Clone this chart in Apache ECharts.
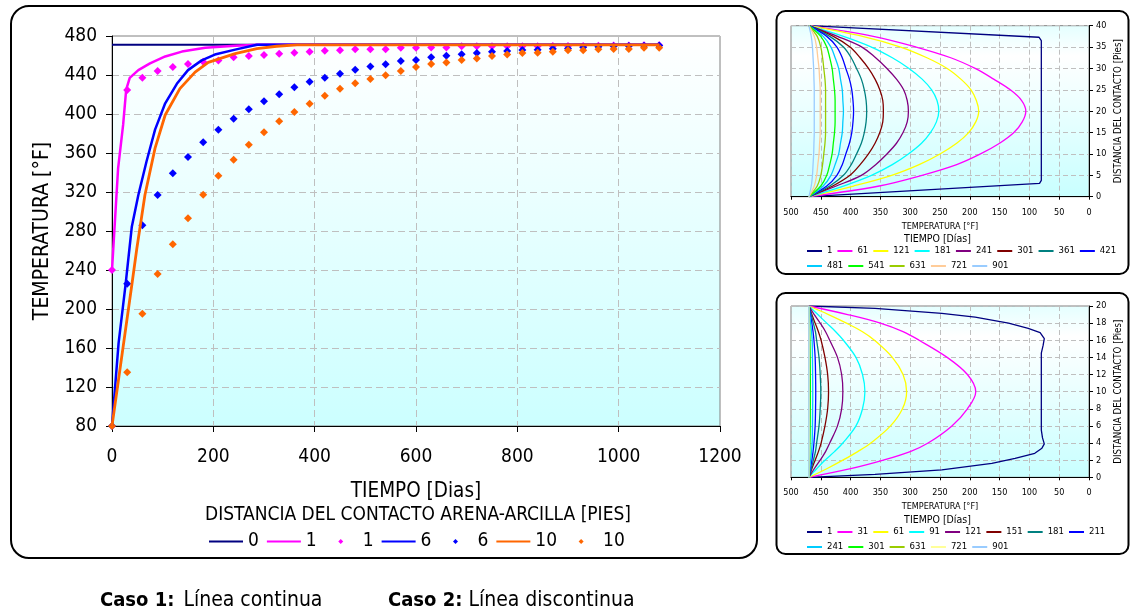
<!DOCTYPE html>
<html><head><meta charset="utf-8">
<script src="https://cdn.jsdelivr.net/npm/echarts@6.0.0/dist/echarts.min.js"></script>
<style>html,body{margin:0;padding:0;background:#fff}#c{width:1130px;height:615px}</style>
</head><body><div id="c"></div>
<script>
// ---------- Main chart data (Temperatura vs Tiempo) ----------
const DAYS = [0,30,60,90,120,150,180,210,240,270,300,330,360,390,420,450,480,510,540,570,600,630,660,690,720,750,780,810,840,870,900,930,960,990,1020,1050,1080];
// Caso 2 (markers)
const D1_T  = [240,424.6,437.3,444.1,448.2,451.3,453.7,455,458.1,459.5,460.5,461.8,462.8,463.9,465,465.3,466.3,466.3,466.5,468,468,468.2,468.3,469.4,469.4,469.4,469.5,469.5,469.6,469.7,469.8,469.8,470,470.2,470.3,470.4,470.5];
const D6_T  = [80,226,285.8,317,339.2,355.9,371,383.9,395.2,404.8,413,420.2,427.4,433.2,437.3,441.4,445.5,448.6,451,454.4,455.4,458.1,459.8,461.2,462.6,463.9,464.6,465.6,465.9,467,467.3,468.4,469,469.4,469.7,470,470.2];
const D10_T = [80,135.1,195.2,235.9,266.3,293,317.3,336.7,353.2,368.5,381.2,392.5,402.1,410.6,418.8,426,431.5,435.9,439.7,444.1,448.2,451.3,452.7,455.4,456.8,459.5,460.9,462.6,462.9,463.9,465.3,465.3,466.3,466.6,466.6,468,468];
// Caso 1 (continuous lines)
const L0_DAYS  = [0,1080];
const L0_T     = [471,471];
const L1_DAYS  = [0,12,22,28,35,52,75,105,138,184,243,290,1080];
const L1_T     = [240,344,389,425,437,445,452,459,464,468,470,471,471];
const L6_DAYS  = [0,13,27,39,52,68,85,105,128,150,177,203,243,286,1080];
const L6_T     = [80,165,226,284,317,351,384,411,431,445,455,461,466,471,471];
const L10_DAYS = [0,40,49,65,85,105,134,164,190,243,286,325,365,1080];
const L10_T    = [80,228,262,317,365,399,426,443,453,462,467,469.5,471,471];

// ---------- Top-right chart (40 ft) ----------
const DIST40 = [0,2.5,5,7.5,10,12.5,15,17.5,20,22.5,25,27.5,30,32.5,35,37.5,40];
const TOP_NAMES = ['1','61','121','181','241','301','361','421','481','541','631','721','901'];
const TOP_COLORS = ['#000080','#FF00FF','#FFFF00','#00FFFF','#800080','#800000','#008080','#0000FF','#00CCFF','#00FF00','#99CC00','#FFCC99','#99CCFF'];
const TOP1_DIST = [0,3.1,3.8,36.5,37.3,40];
const TOP1_T    = [470,83,80,80,84,470];
const TOP61_T  = [470,352,280,222,182,150,126,112,106,113,132,160,191,232,290,362,470];
const TOP121_T = [470,395,331,285,250,222,202,190,185,189,198,215,238,272,316,380,470];
const TOP181_T = [470,412,365,330,303,281,266,256,252,255,264,280,302,330,365,412,470];
const TOP241_T = [470,424,382,358,339,323,312,305,303,305,311,323,339,358,381,422,470];
const TOP301_T = [470,430,401,384,370,359,351,346,345,346,351,359,370,384,401,429,470];
const TOP361_T = [470,435,412,399,390,382,377,374,373,374,377,382,390,399,412,435,470];
const TOP421_T = [470,440,423,414,408,402,398,396,395,396,398,402,408,414,423,440,470];
const TOP481_T = [470,446,433,426,420,417,414,413,412,413,414,417,420,426,433,446,470];
const TOP541_T = [470,450,440,435,431,429,427,426,426,426,427,429,431,435,440,450,470];
const TOP631_T = [470,456,450,447,445,443,442,442,442,442,442,443,445,447,450,456,470];
const TOP721_T = [470,461,457,455,453,452,451,451,451,451,451,452,453,455,457,461,470];
const TOP901_T = [470,466,464,463,462,461.5,461,461,461,461,461,461.5,462,463,464,466,470];

// ---------- Bottom-right chart (20 ft) ----------
const DIST20 = [0,1,2,3,4,6,8,10,12,14,16,17,18,19,20];
const BOT_NAMES = ['1','31','61','91','121','151','181','211','241','301','631','721','901'];
const BOT_COLORS = ['#000080','#FF00FF','#FFFF00','#00FFFF','#800080','#800000','#008080','#0000FF','#00CCFF','#00FF00','#99CC00','#FFFF99','#99CCFF'];
const BOT1_DIST = [0,0.35,0.86,1.63,2.2,2.8,3.4,3.9,4.6,5.5,14.5,15.4,16.2,16.9,17.4,18.0,18.7,19.15,19.73,20];
const BOT1_T    = [470,359,247,163,124,91,79,75,78,80,80,77,75,82,102,135,191,247,359,470];
const BOT31_T  = [470,400,345,300,270,230,204,190,204,238,285,312,350,405,470];
const BOT61_T  = [470,440,413,388,366,333,313,306,312,330,360,380,407,437,470];
const BOT91_T  = [470,457,443,427,413,391,380,376,380,391,412,425,440,455,470];
const BOT121_T = [470,461,451,442,435,422,415,413,415,422,435,442,451,461,470];
const BOT151_T = [470,465,459.5,454,449.5,443,438.5,437,438.5,443,449.5,454,459.5,465,470];
const BOT181_T = [470,466,462.5,459,457,453,451,450,451,453,457,459,462.5,466,470];
const BOT211_T = [470,467.5,465,463,461.5,459.5,458.8,458.5,458.8,459.5,461.5,463,465,467.5,470];
const BOT241_T = [470,468.5,467,465.5,464.5,464,463.7,463.5,463.7,464,464.5,465.5,467,468.5,470];
const BOT301_T = [470,469.5,469,468.5,468.2,467.8,467.6,467.5,467.6,467.8,468.2,468.5,469,469.5,470];
const BOT631_T = [470,469.8,469.6,469.5,469.4,469.3,469.3,469.3,469.3,469.3,469.4,469.5,469.6,469.8,470];
const BOT721_T = [470,469.9,469.8,469.7,469.6,469.6,469.6,469.6,469.6,469.6,469.6,469.7,469.8,469.9,470];
const BOT901_T = [470,470,470,470,470,470,470,470,470,470,470,470,470,470,470];

const FONT = "'DejaVu Sans Condensed','DejaVu Sans',sans-serif";
const zip = (a, b) => a.map((v, i) => [v, b[i]]);
const plain = v => String(v);

const chart = echarts.init(document.getElementById('c'), null, {renderer: 'canvas'});

const gridBgMain = {type:'linear',x:0,y:0,x2:0,y2:1,colorStops:[{offset:0,color:'#FFFFFF'},{offset:1,color:'#CCFFFF'}]};
const gridBgSmall = {type:'linear',x:0,y:0,x2:0,y2:1,colorStops:[{offset:0,color:'#E4FFFF'},{offset:0.18,color:'#FFFFFF'},{offset:1,color:'#C8FFFF'}]};

const dashed = {color:'#BFBFBF', type:[7,4], width:1};
const dashedSmall = {color:'#BFBFBF', type:[5,3], width:1};

function smallX(grid) {
  return {gridIndex:grid, type:'value', inverse:true, min:0, max:500, interval:50,
    name:'TEMPERATURA [°F]', nameLocation:'middle', nameGap:25,
    nameTextStyle:{fontFamily:FONT, fontSize:9, color:'#000'},
    axisLine:{show:true, onZero:false, lineStyle:{color:'#000', width:1}},
    axisTick:{show:true, length:3, lineStyle:{color:'#000'}},
    axisLabel:{fontFamily:FONT, fontSize:9, color:'#000', margin:11, formatter:plain},
    splitLine:{show:true, lineStyle:dashedSmall}};
}
function smallY(grid, max, interval) {
  return {gridIndex:grid, type:'value', position:'right', min:0, max:max, interval:interval,
    name:'DISTANCIA DEL CONTACTO [Pies]', nameLocation:'middle', nameGap:24,
    nameTextStyle:{fontFamily:FONT, fontSize:9.7, color:'#000'},
    axisLine:{show:true, onZero:false, lineStyle:{color:'#000', width:1}},
    axisTick:{show:true, length:4, lineStyle:{color:'#000'}},
    axisLabel:{fontFamily:FONT, fontSize:9, color:'#000', margin:7, formatter:plain},
    splitLine:{show:true, lineStyle:dashedSmall}};
}

const series = [];
// main
series.push({name:'L0', type:'line', xAxisIndex:0, yAxisIndex:0, data:zip(L0_DAYS,L0_T), symbol:'none', lineStyle:{color:'#000080', width:2}, itemStyle:{color:'#000080'}});
series.push({name:'L1', type:'line', xAxisIndex:0, yAxisIndex:0, data:zip(L1_DAYS,L1_T), symbol:'none', lineStyle:{color:'#FF00FF', width:2.5}, itemStyle:{color:'#FF00FF'}});
series.push({name:'D1', type:'scatter', xAxisIndex:0, yAxisIndex:0, data:zip(DAYS,D1_T), symbol:'diamond', symbolSize:8, itemStyle:{color:'#FF00FF', opacity:1}});
series.push({name:'L6', type:'line', xAxisIndex:0, yAxisIndex:0, data:zip(L6_DAYS,L6_T), symbol:'none', lineStyle:{color:'#0000FF', width:2.5}, itemStyle:{color:'#0000FF'}});
series.push({name:'D6', type:'scatter', xAxisIndex:0, yAxisIndex:0, data:zip(DAYS,D6_T), symbol:'diamond', symbolSize:8, itemStyle:{color:'#0000FF', opacity:1}});
series.push({name:'L10', type:'line', xAxisIndex:0, yAxisIndex:0, data:zip(L10_DAYS,L10_T), symbol:'none', lineStyle:{color:'#FF6600', width:2.8}, itemStyle:{color:'#FF6600'}});
series.push({name:'D10', type:'scatter', xAxisIndex:0, yAxisIndex:0, data:zip(DAYS,D10_T), symbol:'diamond', symbolSize:8, itemStyle:{color:'#FF6600', opacity:1}});

// top-right
const TOP_T = [null, TOP61_T, TOP121_T, TOP181_T, TOP241_T, TOP301_T, TOP361_T, TOP421_T, TOP481_T, TOP541_T, TOP631_T, TOP721_T, TOP901_T];
TOP_NAMES.forEach((n, i) => {
  const data = i === 0 ? zip(TOP1_T, TOP1_DIST) : zip(TOP_T[i], DIST40);
  series.push({name:'t'+n, type:'line', xAxisIndex:1, yAxisIndex:1, data:data, symbol:'none',
    smooth: i === 0 ? false : 0.35, lineStyle:{color:TOP_COLORS[i], width:1.3}, itemStyle:{color:TOP_COLORS[i]}});
});
// bottom-right
const BOT_T = [null, BOT31_T, BOT61_T, BOT91_T, BOT121_T, BOT151_T, BOT181_T, BOT211_T, BOT241_T, BOT301_T, BOT631_T, BOT721_T, BOT901_T];
BOT_NAMES.forEach((n, i) => {
  const data = i === 0 ? zip(BOT1_T, BOT1_DIST) : zip(BOT_T[i], DIST20);
  series.push({name:'b'+n, type:'line', xAxisIndex:2, yAxisIndex:2, data:data, symbol:'none',
    smooth: i === 0 ? false : 0.35, lineStyle:{color:BOT_COLORS[i], width:1.3}, itemStyle:{color:BOT_COLORS[i]}});
});

const strip = n => n.slice(1);
const lineItem = n => ({name:n, itemStyle:{opacity:0}});
const DOT_ICON = 'path://M0,0 M34,6 M14.5,3 L17,0.5 L19.5,3 L17,5.5 Z';
const dotItem = n => ({name:n, icon:DOT_ICON});

function smallLegend(top, names) {
  return {top:top, left:806, padding:0, orient:'horizontal', itemWidth:15, itemHeight:8, itemGap:4,
    data:names.map(lineItem), formatter:strip, selectedMode:false,
    textStyle:{fontFamily:FONT, fontSize:9.5, color:'#000', width:14}};
}

const option = {
  animation:false,
  backgroundColor:'#FFFFFF',
  grid:[
    {left:112, right:410, top:36, bottom:189, show:true, backgroundColor:gridBgMain, borderColor:'#808080', borderWidth:1, outerBoundsMode:'none', containLabel:false},
    {left:791, right:41, top:25.7, bottom:418.3, show:true, backgroundColor:gridBgSmall, borderColor:'#808080', borderWidth:1, outerBoundsMode:'none', containLabel:false},
    {left:791, right:41, top:306, bottom:137.7, show:true, backgroundColor:gridBgSmall, borderColor:'#808080', borderWidth:1, outerBoundsMode:'none', containLabel:false}
  ],
  xAxis:[
    {gridIndex:0, type:'value', min:0, max:1200, interval:200,
      name:'TIEMPO [Dias]', nameLocation:'middle', nameGap:55,
      nameTextStyle:{fontFamily:FONT, fontSize:20.5, color:'#000'},
      axisLine:{show:true, onZero:false, lineStyle:{color:'#000', width:1}},
      axisTick:{show:true, length:6, lineStyle:{color:'#000'}},
      axisLabel:{fontFamily:FONT, fontSize:19, color:'#000', margin:22, formatter:plain},
      splitLine:{show:true, lineStyle:dashed}},
    smallX(1), smallX(2)
  ],
  yAxis:[
    {gridIndex:0, type:'value', min:80, max:480, interval:40,
      name:'TEMPERATURA [°F]', nameLocation:'middle', nameGap:56,
      nameTextStyle:{fontFamily:FONT, fontSize:21, color:'#000'},
      axisLine:{show:true, onZero:false, lineStyle:{color:'#000', width:1}},
      axisTick:{show:true, length:6, lineStyle:{color:'#000'}},
      axisLabel:{fontFamily:FONT, fontSize:19, color:'#000', margin:15, formatter:plain},
      splitLine:{show:true, lineStyle:dashed}},
    smallY(1, 40, 5), smallY(2, 20, 2)
  ],
  legend:[
    {top:532, left:208, padding:0, itemWidth:34, itemHeight:6, itemGap:7, selectedMode:false, symbolKeepAspect:true,
      data:[lineItem('L0'), lineItem('L1'), dotItem('D1'), lineItem('L6'), dotItem('D6'), lineItem('L10'), dotItem('D10')],
      formatter:strip,
      textStyle:{fontFamily:FONT, fontSize:19, color:'#000'}},
    smallLegend(246, ['t1','t61','t121','t181','t241','t301','t361','t421']),
    smallLegend(261, ['t481','t541','t631','t721','t901']),
    smallLegend(527, ['b1','b31','b61','b91','b121','b151','b181','b211']),
    smallLegend(542, ['b241','b301','b631','b721','b901'])
  ],
  graphic:[
    {type:'rect', z:-10, shape:{x:11, y:6, width:746, height:552, r:18}, style:{fill:'none', stroke:'#000', lineWidth:2}},
    {type:'rect', z:-10, shape:{x:776.5, y:11, width:352, height:263, r:9}, style:{fill:'none', stroke:'#000', lineWidth:2}},
    {type:'rect', z:-10, shape:{x:776.5, y:293, width:352, height:261, r:9}, style:{fill:'none', stroke:'#000', lineWidth:2}},
    {type:'text', x:418, y:515, style:{text:'DISTANCIA DEL CONTACTO ARENA-ARCILLA [PIES]', fontFamily:FONT, fontSize:19, fill:'#000', align:'center', verticalAlign:'middle'}},
    {type:'text', x:937.5, y:239.5, style:{text:'TIEMPO [Días]', fontFamily:FONT, fontSize:10.5, fill:'#000', align:'center', verticalAlign:'middle'}},
    {type:'text', x:937.5, y:520, style:{text:'TIEMPO [Días]', fontFamily:FONT, fontSize:10.5, fill:'#000', align:'center', verticalAlign:'middle'}},
    {type:'text', x:100, y:601, style:{text:'{b|Caso 1:}{n|Línea continua}', align:'left', verticalAlign:'middle',
      rich:{b:{fontFamily:FONT, fontSize:20, fontWeight:'bold', fill:'#000'}, n:{fontFamily:FONT, fontSize:21, fill:'#000', padding:[0,0,0,9]}}}},
    {type:'text', x:388, y:601, style:{text:'{b|Caso 2:}{n|Línea discontinua}', align:'left', verticalAlign:'middle',
      rich:{b:{fontFamily:FONT, fontSize:20, fontWeight:'bold', fill:'#000'}, n:{fontFamily:FONT, fontSize:21, fill:'#000', padding:[0,0,0,6]}}}}
  ],
  series:series
};
chart.setOption(option);
</script></body></html>
